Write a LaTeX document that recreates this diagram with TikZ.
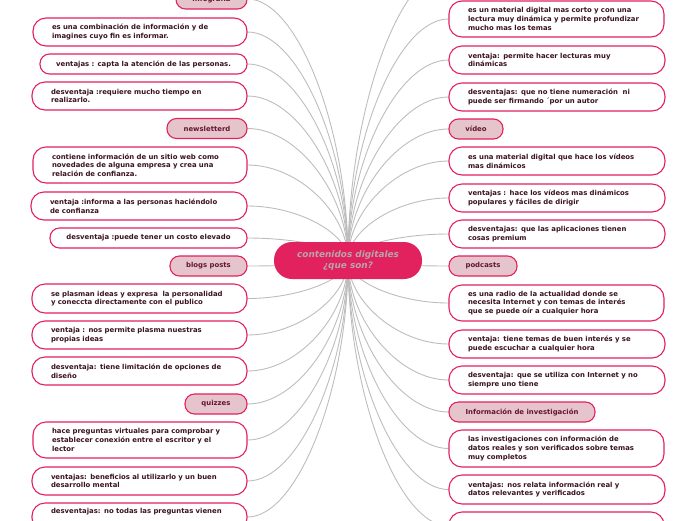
\documentclass[tikz,border=0pt]{standalone}
\usepackage{fontspec}
\setmainfont{DejaVu Sans}
\usetikzlibrary{calc,backgrounds}
\definecolor{crim}{HTML}{E2215F}
\definecolor{pinkfill}{HTML}{E6C4CC}
\definecolor{wtext}{HTML}{3A1220}
\definecolor{ptext}{HTML}{641530}
\definecolor{conn}{HTML}{BDBDBD}
\definecolor{ctext}{HTML}{B5A6AC}
\tikzset{
  wbox/.style={draw=crim, line width=1.1pt, fill=white, rounded corners=13pt,
    inner xsep=19pt, inner ysep=2pt, align=left, text=wtext,
    font=\fontsize{6.9}{8.7}\selectfont\bfseries},
  sbox/.style={draw=crim, line width=1.1pt, fill=white, rounded corners=9.5pt,
    inner sep=0pt, align=center, text=wtext,
    font=\fontsize{6.9}{8.7}\selectfont\bfseries},
  pbox/.style={draw=crim, line width=1.1pt, fill=pinkfill, rounded corners=9.5pt,
    minimum height=20pt, inner sep=0pt, align=center, text=ptext,
    font=\fontsize{6.9}{8.7}\selectfont\bfseries},
  cbox/.style={fill=crim, rounded corners=18pt, minimum width=148pt, minimum height=37pt,
    align=center, text=ctext, inner sep=0pt,
    font=\fontsize{8.9}{11}\selectfont\bfseries\itshape},
  connline/.style={draw=conn, line width=0.9pt}
}
\newcommand\connL[1]{\draw[connline] (C) .. controls ($(C)!0.5!(C|-#1.east)$) and ($(#1.east)!0.5!(#1.east-|C)$) .. (#1.east);}
\newcommand\connR[1]{\draw[connline] (C) .. controls ($(C)!0.5!(C|-#1.west)$) and ($(#1.west)!0.5!(#1.west-|C)$) .. (#1.west);}
\begin{document}
\begin{tikzpicture}[x=1pt,y=-1pt]
\useasboundingbox (0,0) rectangle (696,520);
\coordinate (C) at (348,260);
% left column
\node[pbox, minimum width=71pt] (L0) at (211.5,-1) {infografía};
\node[wbox, minimum width=214pt, minimum height=28pt, text width=176pt] (L1) at (140,32) {es una combinación de información y de\\imagines cuyo fin es informar.};
\node[sbox, minimum width=207pt, minimum height=20pt] (L2) at (143.5,64) {ventajas : capta la atención de las personas.};
\node[wbox, minimum width=215pt, minimum height=28pt, text width=177pt] (L3) at (139.5,96) {desventaja :requiere mucho tiempo en\\realizarlo.};
\node[pbox, minimum width=80pt] (L4) at (207,128.5) {newsletterd};
\node[wbox, minimum width=214pt, minimum height=36pt, text width=176pt] (L5) at (140,165) {contiene información de un sitio web como\\novedades de alguna empresa y crea una\\relación de confianza.};
\node[wbox, minimum width=216pt, minimum height=28pt, text width=178pt] (L6) at (139,206) {ventaja :informa a las personas haciéndolo\\de confianza};
\node[sbox, minimum width=197pt, minimum height=20pt] (L7) at (148.5,238) {desventaja :puede tener un costo elevado};
\node[pbox, minimum width=77pt] (L8) at (208.5,266) {blogs posts};
\node[wbox, minimum width=215pt, minimum height=29pt, text width=177pt] (L9) at (139.5,298.5) {se plasman ideas y expresa\ \ la personalidad\\y coneccta directamente con el publico};
\node[wbox, minimum width=215pt, minimum height=28pt, text width=177pt] (L10) at (139.5,335) {ventaja : nos permite plasma nuestras\\propias ideas};
\node[wbox, minimum width=215pt, minimum height=28pt, text width=177pt] (L11) at (139.5,371) {desventaja: tiene limitación de opciones de\\diseño};
\node[pbox, minimum width=62pt] (L12) at (216,404) {quizzes};
\node[wbox, minimum width=214pt, minimum height=36pt, text width=176pt] (L13) at (140,440) {hace preguntas virtuales para comprobar y\\establecer conexión entre el escritor y el\\lector};
\node[wbox, minimum width=215pt, minimum height=28pt, text width=177pt] (L14) at (139.5,481) {ventajas: beneficios al utilizarlo y un buen\\desarrollo mental};
\node[wbox, minimum width=215pt, minimum height=28pt, text width=177pt] (L15) at (139.5,517) {desventajas: no todas las preguntas vienen\\\strut};
% right column
\coordinate (Rtop) at (449,-30);
\node[wbox, minimum width=215pt, minimum height=36pt, text width=177pt] (R1) at (556.5,19) {es un material digital mas corto y con una\\lectura muy dinámica y permite profundizar\\mucho mas los temas};
\node[wbox, minimum width=216pt, minimum height=28pt, text width=178pt] (R2) at (557,60) {ventaja: permite hacer lecturas muy\\dinámicas};
\node[wbox, minimum width=216pt, minimum height=28pt, text width=178pt] (R3) at (557,97) {desventajas: que no tiene numeración\ \ ni\\puede ser firmando ´por un autor};
\node[pbox, minimum width=54pt] (R4) at (476,129) {vídeo};
\node[wbox, minimum width=216pt, minimum height=28pt, text width=178pt] (R5) at (557,161) {es una material digital que hace los vídeos\\mas dinámicos};
\node[wbox, minimum width=216pt, minimum height=28pt, text width=178pt] (R6) at (557,198) {ventajas : hace los vídeos mas dinámicos\\populares y fáciles de dirigir};
\node[wbox, minimum width=216pt, minimum height=28pt, text width=178pt] (R7) at (557,234) {desventajas: que las aplicaciones tienen\\cosas premium};
\node[pbox, minimum width=68pt] (R8) at (483,266) {podcasts};
\node[wbox, minimum width=215pt, minimum height=36pt, text width=177pt] (R9) at (556.5,303) {es una radio de la actualidad donde se\\necesita Internet y con temas de interés\\que se puede oír a cualquier hora};
\node[wbox, minimum width=216pt, minimum height=28pt, text width=178pt] (R10) at (557,344) {ventaja: tiene temas de buen interés y se\\puede escuchar a cualquier hora};
\node[wbox, minimum width=216pt, minimum height=28pt, text width=178pt] (R11) at (557,380) {desventaja: que se utiliza con Internet y no\\siempre uno tiene};
\node[pbox, minimum width=146pt] (R12) at (522,412) {Información de investigación};
\node[wbox, minimum width=215pt, minimum height=37pt, text width=177pt] (R13) at (556.5,448.5) {las investigaciones con información de\\datos reales y son verificados sobre temas\\muy completos};
\node[wbox, minimum width=216pt, minimum height=29pt, text width=178pt] (R14) at (557,489.5) {ventajas: nos relata información real y\\datos relevantes y verificados};
\node[wbox, minimum width=215pt, minimum height=28pt, text width=177pt] (R15) at (556.5,526) {};
% centre
\node[cbox] (Ctr) at (348,260.5) {contenidos digitales\\¿que son?};
\begin{pgfonlayer}{background}
\foreach \n in {L0,L1,L2,L3,L4,L5,L6,L7,L8,L9,L10,L11,L12,L13,L14,L15}{\connL{\n}}
\foreach \n in {R1,R2,R3,R4,R5,R6,R7,R8,R9,R10,R11,R12,R13,R14,R15}{\connR{\n}}
\draw[connline] (C) .. controls ($(C)!0.5!(C|-Rtop)$) and ($(Rtop)!0.5!(Rtop-|C)$) .. (Rtop);
\end{pgfonlayer}
\end{tikzpicture}
\end{document}
